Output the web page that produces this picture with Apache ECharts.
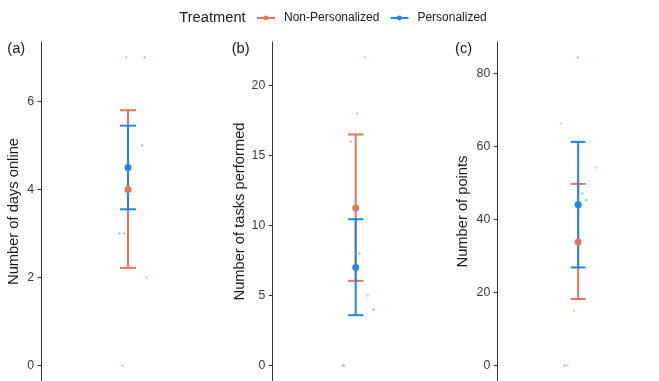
<!DOCTYPE html>
<html><head><meta charset="utf-8">
<script src="https://cdn.jsdelivr.net/npm/echarts@6/dist/echarts.min.js"></script>
<style>html,body{margin:0;padding:0;background:#fff}#c{width:659px;height:381px}</style>
</head><body><div id="c"></div>
<script>
const groups = ['Non-Personalized', 'Personalized'];
const colors = ['#E8735A', '#1E88E5'];
const panelLabels = ['(a)', '(b)', '(c)'];
const yTitles = ['Number of days online', 'Number of tasks performed', 'Number of points'];
// means and error bars [Non-Personalized, Personalized]
const meanA = [4.0, 4.5], lowA = [2.22, 3.55], highA = [5.8, 5.45];
const meanB = [11.25, 7.0], lowB = [6.05, 3.6], highB = [16.5, 10.45];
const meanC = [33.8, 44.0], lowC = [18.2, 26.85], highC = [49.7, 61.2];
// raw observations (values) and their horizontal jitter
const rawA_np = [7, 0, 2], jitA_np = [-0.012, -0.037, 0.129];
const rawA_p = [7, 5, 3, 3], jitA_p = [0.115, 0.097, -0.06, -0.026];
const rawB_np = [22, 18, 5, 0], jitB_np = [0.065, 0.009, 0.086, -0.094];
const rawB_p = [16, 8, 4, 0], jitB_p = [-0.036, 0.026, 0.129, -0.086];
const rawC_np = [66.2, 54.2, 15, 0], jitC_np = [-0.127, 0.129, -0.032, -0.079];
const rawC_p = [84.3, 47.1, 45.3, 0], jitC_p = [-0.003, 0.031, 0.06, -0.101];
const ticksA = [0, 2, 4, 6], ticksB = [0, 5, 10, 15, 20], ticksC = [0, 20, 40, 60, 80];

const panels = [
  {mean: meanA, low: lowA, high: highA, raw: [rawA_np, rawA_p], jit: [jitA_np, jitA_p], ticks: ticksA, left: 41, width: 174, gap: 20},
  {mean: meanB, low: lowB, high: highB, raw: [rawB_np, rawB_p], jit: [jitB_np, jitB_p], ticks: ticksB, left: 272.3, width: 166.8, gap: 24},
  {mean: meanC, low: lowC, high: highC, raw: [rawC_np, rawC_p], jit: [jitC_np, jitC_p], ticks: ticksC, left: 497.3, width: 166.8, gap: 26.5}
];
const FONT = 'Liberation Sans, Arial, sans-serif';
const grids = [], xAxes = [], yAxes = [], series = [], graphics = [];
panels.forEach((p, i) => {
  const all = [].concat(p.raw[0], p.raw[1], p.low, p.high);
  const lo = Math.min(...all), hi = Math.max(...all), pad = (hi - lo) * 0.05;
  grids.push({left: p.left, width: p.width, top: 42, height: 339});
  xAxes.push({gridIndex: i, type: 'value', min: 0.4, max: 1.6, show: false});
  yAxes.push({
    gridIndex: i, type: 'value', min: lo - pad, max: hi + pad,
    name: yTitles[i], nameLocation: 'middle', nameGap: p.gap,
    nameTextStyle: {fontFamily: FONT, fontSize: 14.7, color: '#1a1a1a'},
    axisLine: {show: true, lineStyle: {color: '#333', width: 1}},
    axisTick: {show: true, length: 3.5, lineStyle: {color: '#333'}, customValues: p.ticks},
    axisLabel: {fontFamily: FONT, fontSize: 12.3, color: '#3a3a3a', margin: 7, customValues: p.ticks},
    splitLine: {show: false}
  });
  // raw jittered points
  for (let g = 0; g < 2; g++) {
    series.push({
      type: 'scatter', xAxisIndex: i, yAxisIndex: i, symbol: 'circle', symbolSize: 2.5,
      itemStyle: {color: colors[g], opacity: 0.45}, silent: true, z: 1,
      data: p.raw[g].map((v, k) => [1 + p.jit[g][k], v])
    });
  }
  // error bars
  for (let g = 0; g < 2; g++) {
    series.push({
      type: 'custom', xAxisIndex: i, yAxisIndex: i, z: 2 + g, silent: true,
      data: [[1, p.low[g], p.high[g]]],
      renderItem: (params, api) => {
        const x = api.value(0), l = api.value(1), h = api.value(2), hw = 0.055;
        const a = api.coord([x, l]), b = api.coord([x, h]);
        const l1 = api.coord([x - hw, l]), l2 = api.coord([x + hw, l]);
        const h1 = api.coord([x - hw, h]), h2 = api.coord([x + hw, h]);
        const st = {stroke: colors[g], lineWidth: 2};
        return {type: 'group', children: [
          {type: 'line', shape: {x1: a[0], y1: a[1], x2: b[0], y2: b[1]}, style: st},
          {type: 'line', shape: {x1: l1[0], y1: l1[1], x2: l2[0], y2: l2[1]}, style: st},
          {type: 'line', shape: {x1: h1[0], y1: h1[1], x2: h2[0], y2: h2[1]}, style: st}
        ]};
      }
    });
  }
  // means
  for (let g = 0; g < 2; g++) {
    series.push({
      type: 'scatter', xAxisIndex: i, yAxisIndex: i, symbol: 'circle', symbolSize: 7,
      itemStyle: {color: colors[g], opacity: 1}, z: 5, silent: true,
      data: [[1, p.mean[g]]]
    });
  }
  graphics.push({type: 'text', left: [7.3, 231.7, 455][i], top: 41,
    style: {text: panelLabels[i], font: '14.7px ' + FONT, fill: '#1a1a1a'}});
});
// legend series
groups.forEach((name, g) => {
  series.push({type: 'line', name, xAxisIndex: 0, yAxisIndex: 0, data: [], symbol: 'circle', symbolSize: 6,
    itemStyle: {color: colors[g]}, lineStyle: {color: colors[g], width: 2}});
});
graphics.push({type: 'text', left: 179.3, top: 10, style: {text: 'Treatment', font: '14.7px ' + FONT, fill: '#1a1a1a'}});

const chart = echarts.init(document.getElementById('c'), null, {renderer: 'canvas'});
chart.setOption({
  animation: false,
  backgroundColor: '#fff',
  grid: grids, xAxis: xAxes, yAxis: yAxes, series,
  graphic: graphics,
  legend: {data: groups, left: 251, top: 7, itemWidth: 18, itemHeight: 6, itemGap: 10,
    textStyle: {fontFamily: FONT, fontSize: 12, color: '#1a1a1a', padding: [0, 0, 0, 4]}}
});
</script></body></html>
